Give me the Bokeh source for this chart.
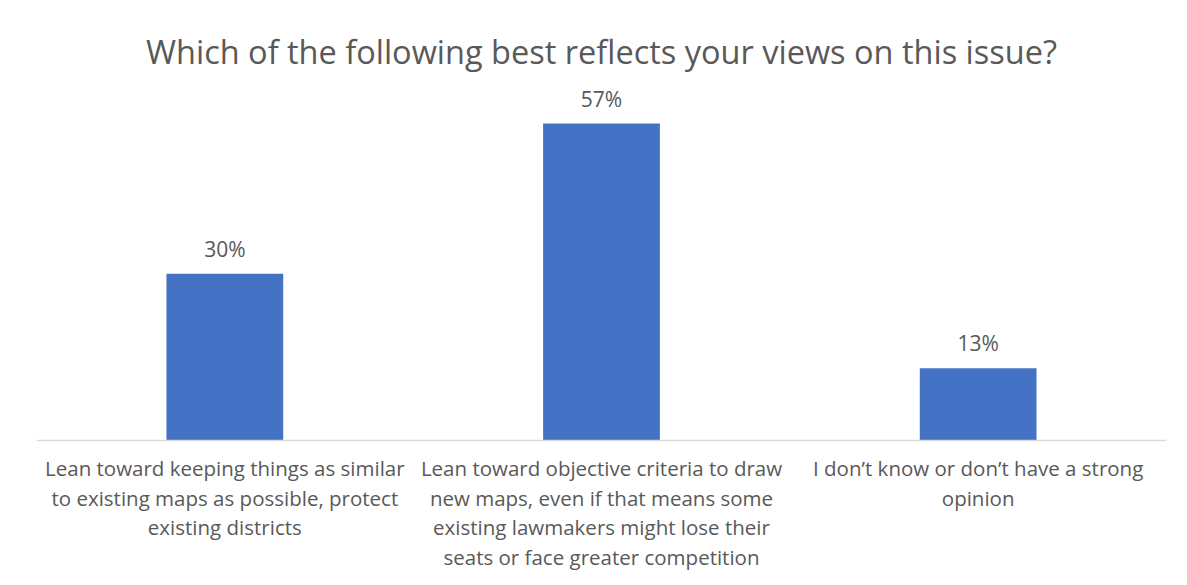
from bokeh.plotting import figure
from bokeh.models import FactorRange, Range1d, Span, ColumnDataSource
from bokeh.core.properties import value
from bokeh.embed import file_html
from bokeh.resources import INLINE

title_text = "Which of the following best reflects your views on this issue?"
categories = [
    "Lean toward keeping things as similar\nto existing maps as possible, protect\nexisting districts",
    "Lean toward objective criteria to draw\nnew maps, even if that means some\nexisting lawmakers might lose their\nseats or face greater competition",
    "I don\u2019t know or don\u2019t have a strong\nopinion",
]
values = [30, 57, 13]
value_labels = [f"{v}%" for v in values]

FONT = "Open Sans"
TEXT_COLOR = "#595959"
BAR_COLOR = "#4472C4"
AXIS_COLOR = "#D9D9D9"

src = ColumnDataSource(dict(cat=categories, val=values, lab=value_labels, zero=[0] * len(values)))

p = figure(
    width=1187, height=585,
    x_range=FactorRange(factors=categories),
    y_range=Range1d(-26.08, 65.1),
    output_backend="svg", toolbar_location=None,
    min_border_left=36, min_border_right=21, min_border_top=78, min_border_bottom=0,
)

p.title.text = title_text
p.title.align = "center"
p.title.text_font = FONT
p.title.text_font_size = "32.5px"
p.title.text_font_style = "normal"
p.title.text_color = TEXT_COLOR
p.title.standoff = 10

p.vbar(x="cat", top="val", bottom=0, width=0.31, source=src, color=BAR_COLOR, line_color=None)

p.add_layout(Span(location=0, dimension="width", line_color=AXIS_COLOR, line_width=1.5))

p.text(x="cat", y="val", text="lab", source=src, text_font=value(FONT), text_font_size="21px",
       text_color=TEXT_COLOR, text_align="center", text_baseline="alphabetic", y_offset=-25)

p.text(x="cat", y="zero", text="cat", source=src, text_font=value(FONT), text_font_size="20.5px",
       text_color=TEXT_COLOR, text_align="center", text_baseline="top", y_offset=14,
       text_line_height=1.05)

p.xaxis.visible = False
p.yaxis.visible = False
p.xgrid.visible = False
p.ygrid.visible = False
p.outline_line_color = None
p.background_fill_color = "white"
p.border_fill_color = "white"

open("out.html", "w").write(file_html(p, INLINE))
